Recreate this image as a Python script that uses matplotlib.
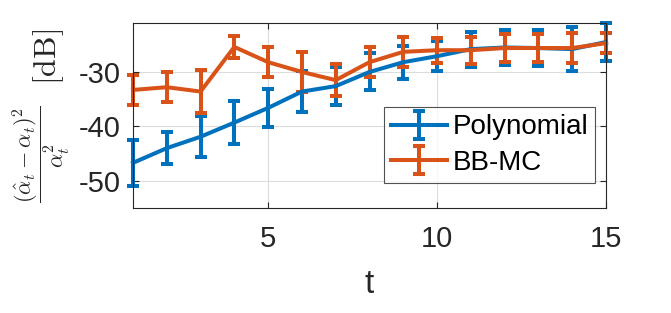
import numpy as np
import matplotlib
matplotlib.use("Agg")
import matplotlib.pyplot as plt

plt.rcParams['font.family'] = ['Liberation Sans', 'DejaVu Sans']
plt.rcParams['mathtext.fontset'] = 'cm'
plt.rcParams['axes.unicode_minus'] = False

t = np.arange(1, 16)
poly_mean = [-46.7, -44.0, -41.9, -39.3, -36.6, -33.6, -32.6, -30.0,
             -28.2, -27.1, -25.8, -25.5, -25.6, -25.8, -24.5]
poly_err = [4.2, 3.0, 3.8, 4.0, 3.5, 3.8, 3.5, 3.4,
            3.0, 2.8, 3.2, 3.3, 3.3, 4.0, 3.5]
bbmc_mean = [-33.3, -32.8, -33.6, -25.4, -28.2, -30.0, -31.5, -28.2,
             -26.3, -26.0, -26.0, -25.6, -25.6, -25.6, -24.7]
bbmc_err = [2.7, 2.8, 3.9, 2.1, 2.8, 3.6, 3.0, 2.7,
            2.7, 2.3, 2.5, 2.6, 2.6, 2.8, 1.9]

blue = '#0072BD'
orange = '#D95319'
dark = '#262626'

fig = plt.figure(figsize=(6.71, 3.13), dpi=100)
ax = fig.add_axes([133/671, 1 - 208/313, (606-133)/671, (208-23)/313])

for m, e, c, lab in [(poly_mean, poly_err, blue, 'Polynomial'),
                     (bbmc_mean, bbmc_err, orange, 'BB-MC')]:
    cont = ax.errorbar(t, m, yerr=e, color=c, lw=2.9, elinewidth=2.9,
                       capsize=4, capthick=2.9, label=lab)
    for art in cont.get_children():
        art.set_clip_on(False)

ax.set_xlim(1, 15)
ax.set_ylim(-55, -21)
ax.set_xticks([5, 10, 15])
ax.set_yticks([-50, -40, -30])
ax.grid(True, color='#dcdcdc', lw=0.8)
ax.set_axisbelow(True)
ax.tick_params(direction='in', top=True, right=True, labelsize=21, length=4,
               colors=dark, labelcolor=dark)
ax.tick_params(axis='x', pad=12)
ax.tick_params(axis='y', pad=9)
for sp in ax.spines.values():
    sp.set_color(dark)
    sp.set_linewidth(0.8)

ax.set_xlabel('t', fontsize=24, color=dark, labelpad=12)

# y label: fraction and [dB] at different sizes, as in the original
fig.text(41/671, 1 - 154/313, r'$\dfrac{(\hat{\alpha}_t-\alpha_t)^2}{\alpha_t^2}$',
         rotation=90, ha='center', va='center', fontsize=16, color=dark)
fig.text(49/671, 1 - 57/313, r'$\mathrm{[dB]}$',
         rotation=90, ha='center', va='center', fontsize=23, color=dark)

leg = ax.legend(loc='lower right', bbox_to_anchor=(1 - 11/473, 25/185),
                fontsize=20, frameon=True, fancybox=False, borderpad=0.25,
                handlelength=2.0, handletextpad=0.2, labelspacing=0.35,
                borderaxespad=0)
leg.get_frame().set_edgecolor(dark)
leg.get_frame().set_linewidth(0.8)

fig.savefig('out.png', dpi=100)
